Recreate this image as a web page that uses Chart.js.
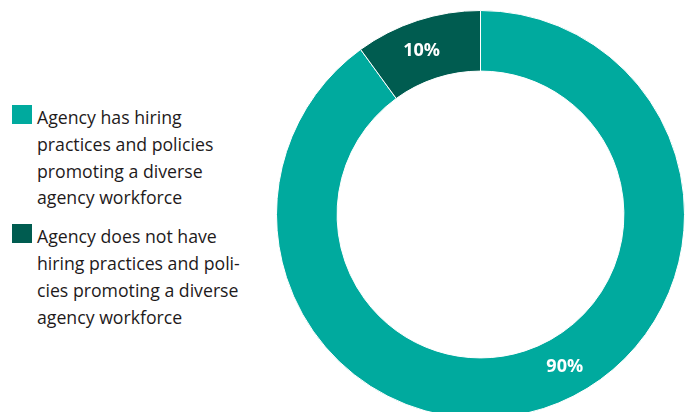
<!DOCTYPE html>
<html>
<head>
<meta charset="utf-8">
<script src="https://cdn.jsdelivr.net/npm/chart.js@4.4.1/dist/chart.umd.min.js"></script>
<style>
  html, body { margin: 0; padding: 0; background: #ffffff; width: 690px; height: 412px; overflow: hidden; position: relative; }
  #wrap { position: absolute; left: 276px; top: 10px; width: 409px; height: 409px; }
  #legend { position: absolute; left: 12px; top: 104px; font-family: "Open Sans", sans-serif; font-size: 17.7px; line-height: 26.8px; color: #1e1a1b; }
  .item { position: relative; padding-left: 25px; margin-bottom: 12px; }
  .sw { position: absolute; left: 0; top: 1px; width: 20px; height: 19px; }
</style>
</head>
<body>
<div id="legend"></div>
<div id="wrap"><canvas id="c" width="409" height="409"></canvas></div>
<script>
const categories = [
  ["Agency has hiring", "practices and policies", "promoting a diverse", "agency workforce"],
  ["Agency does not have", "hiring practices and poli-", "cies promoting a diverse", "agency workforce"]
];
const values = [90, 10];
const valueLabels = ["90%", "10%"];
const colors = ["#00AA9E", "#005C50"];

const legend = document.getElementById('legend');
categories.forEach((lines, i) => {
  const d = document.createElement('div');
  d.className = 'item';
  const s = document.createElement('span');
  s.className = 'sw';
  s.style.background = colors[i];
  d.appendChild(s);
  lines.forEach((l, j) => {
    if (j) d.appendChild(document.createElement('br'));
    d.appendChild(document.createTextNode(l));
  });
  legend.appendChild(d);
});

const labelPlugin = {
  id: 'arcLabels',
  afterDatasetsDraw(chart, args, opts) {
    const ctx = chart.ctx;
    const meta = chart.getDatasetMeta(0);
    ctx.save();
    ctx.fillStyle = '#ffffff';
    ctx.font = 'bold 18px "Open Sans", sans-serif';
    ctx.textAlign = 'center';
    ctx.textBaseline = 'middle';
    meta.data.forEach((arc, i) => {
      const p = arc.getProps(['x','y','startAngle','endAngle','innerRadius','outerRadius'], true);
      const f = opts.fractions[i];
      const a = p.startAngle + (p.endAngle - p.startAngle) * f;
      const r = (p.innerRadius + p.outerRadius) / 2;
      ctx.fillText(valueLabels[i], p.x + Math.cos(a) * r, p.y + Math.sin(a) * r);
    });
    ctx.restore();
  }
};

new Chart(document.getElementById('c'), {
  type: 'doughnut',
  data: {
    labels: categories,
    datasets: [{
      data: values,
      backgroundColor: colors,
      borderColor: '#ffffff',
      borderWidth: 1
    }]
  },
  options: {
    responsive: false,
    animation: false,
    cutout: '70.3%',
    layout: { padding: 0 },
    plugins: {
      legend: { display: false },
      tooltip: { enabled: false },
      arcLabels: { fractions: [0.466, 0.45] }
    }
  },
  plugins: [labelPlugin]
});
</script>
</body>
</html>
